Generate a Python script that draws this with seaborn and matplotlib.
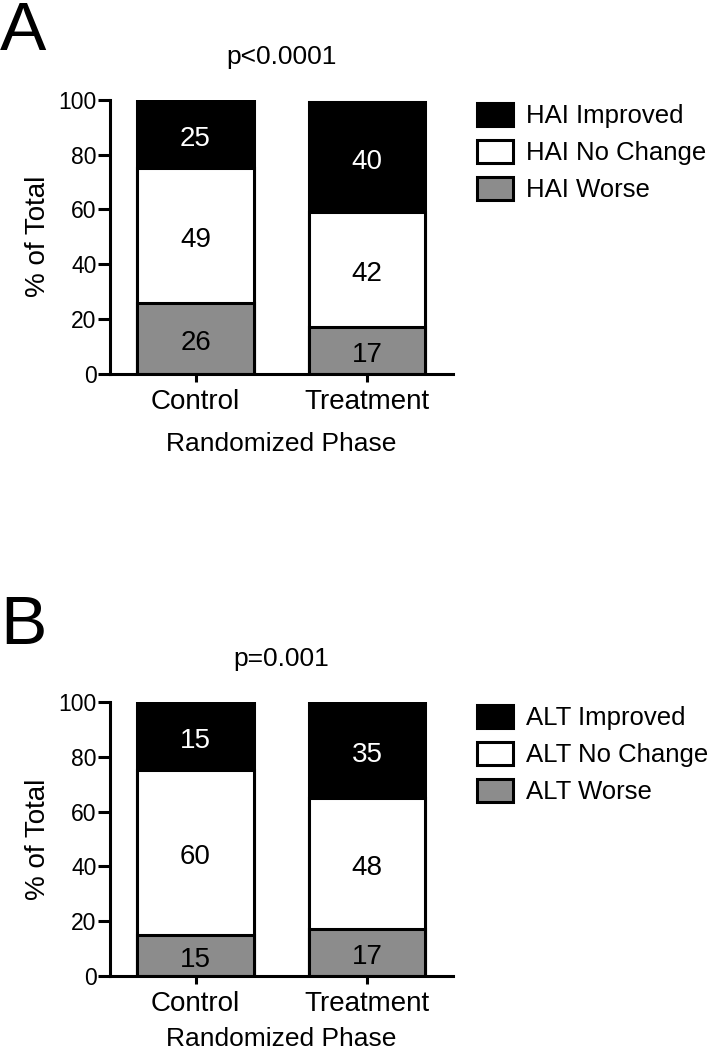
import numpy as np
import pandas as pd
import seaborn as sns
import matplotlib
matplotlib.use("Agg")
import matplotlib.pyplot as plt
from matplotlib.patches import Patch

sns.set_style("ticks")
plt.rcParams['font.family'] = ['Liberation Sans', 'DejaVu Sans']
plt.rcParams['text.color'] = 'black'
plt.rcParams['axes.labelcolor'] = 'black'
plt.rcParams['xtick.color'] = 'black'
plt.rcParams['ytick.color'] = 'black'

groups = ["Control", "Treatment"]

# panel A (HAI)
hai_worse = [26, 17]
hai_nochange = [49, 42]
hai_improved = [25, 40]
hai_improved_labels = ["25", "40"]

# panel B (ALT) - black segment of Control drawn to 100 in the original but labelled 15
alt_worse = [15, 17]
alt_nochange = [60, 48]
alt_improved = [25, 35]
alt_improved_labels = ["15", "35"]

grey = "#8c8c8c"


def stacked_panel(ax, worse, nochange, improved, top_labels, prefix, pval,
                  xpad):
    df = pd.DataFrame({"group": groups,
                       "worse": worse,
                       "nochange": nochange,
                       "improved": improved})
    df["c1"] = df["worse"]
    df["c2"] = df["worse"] + df["nochange"]
    df["c3"] = df["c2"] + df["improved"]
    # draw tallest first, overlay the shorter cumulative bars
    for col, fc in [("c3", "black"), ("c2", "white"), ("c1", grey)]:
        sns.barplot(data=df, x="group", y=col, color=fc, width=0.68,
                    edgecolor="black", linewidth=2.2, saturation=1, ax=ax,
                    errorbar=None)
    off = -1.7
    for i in range(len(groups)):
        ax.text(i, df["c1"][i] / 2 + off, str(worse[i]), ha="center",
                va="center", fontsize=20, color="black")
        ax.text(i, (df["c1"][i] + df["c2"][i]) / 2 + off, str(nochange[i]),
                ha="center", va="center", fontsize=20, color="black")
        ax.text(i, (df["c2"][i] + df["c3"][i]) / 2 + off, top_labels[i],
                ha="center", va="center", fontsize=20, color="white")
    ax.set_ylim(0, 100)
    ax.set_xlim(-0.5, 1.5)
    ax.set_yticks([0, 20, 40, 60, 80, 100])
    ax.set_ylabel("% of Total", fontsize=20, labelpad=5)
    ax.set_xlabel("Randomized Phase", fontsize=19, labelpad=xpad)
    ax.tick_params(axis="y", labelsize=16.5, width=2.2, length=8.5, pad=1,
                   color="black")
    ax.tick_params(axis="x", labelsize=20, width=2.2, length=6, pad=5,
                   color="black")
    for s in ["left", "bottom"]:
        ax.spines[s].set_linewidth(2.2)
        ax.spines[s].set_color("black")
    sns.despine(ax=ax)
    ax.set_title(pval, fontsize=19, pad=26)
    handles = [Patch(facecolor="black", edgecolor="black", linewidth=2.2),
               Patch(facecolor="white", edgecolor="black", linewidth=2.2),
               Patch(facecolor=grey, edgecolor="black", linewidth=2.2)]
    names = [prefix + " Improved", prefix + " No Change", prefix + " Worse"]
    ax.legend(handles, names, loc="upper left", bbox_to_anchor=(1.04, 1.026),
              frameon=False, fontsize=18.5, handlelength=1.4, handleheight=1.0,
              labelspacing=0.45, handletextpad=0.5, borderaxespad=0)


fig = plt.figure(figsize=(7.13, 10.5), dpi=100)
axA = fig.add_axes([0.154, 0.644, 0.481, 0.261])
axB = fig.add_axes([0.154, 0.0705, 0.481, 0.261])

stacked_panel(axA, hai_worse, hai_nochange, hai_improved, hai_improved_labels,
              "HAI", "p<0.0001", 12)
stacked_panel(axB, alt_worse, alt_nochange, alt_improved, alt_improved_labels,
              "ALT", "p=0.001", 7)

fig.text(0.0, 1.0, "A", fontsize=50, va="top", ha="left")
fig.text(0.0, 0.434, "B", fontsize=50, va="top", ha="left")

fig.savefig("out.png", dpi=100)
